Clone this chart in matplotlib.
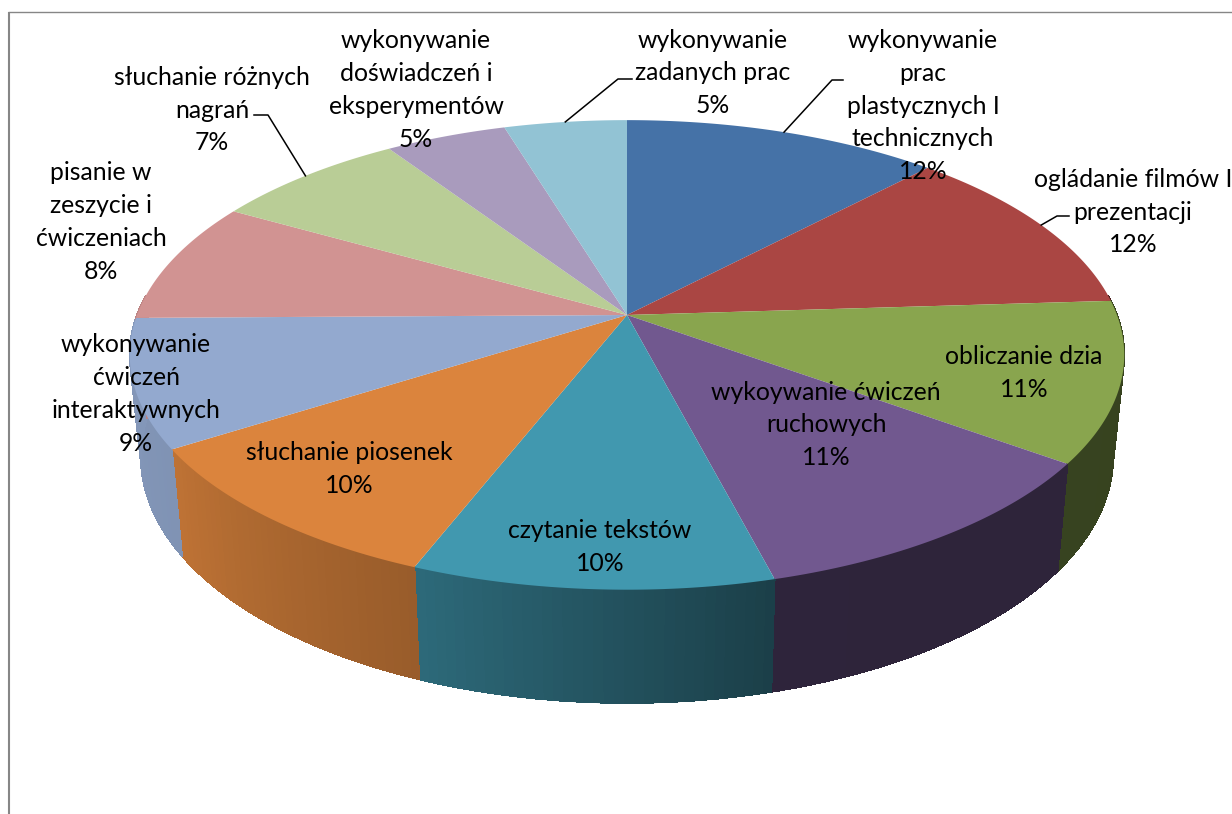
"""
3D pie of classroom activities, drawn by hand on a pixel-sized axes.
"""
import numpy as np
import matplotlib; matplotlib.use("Agg")
import matplotlib.pyplot as plt

labels = [
    "wykonywanie\nprac\nplastycznych I\ntechnicznych",
    "ogládanie filmów I\nprezentacji",
    "obliczanie dzia",
    "wykoywanie ćwiczeń\nruchowych",
    "czytanie tekstów",
    "słuchanie piosenek",
    "wykonywanie\nćwiczeń\ninteraktywnych",
    "pisanie w\nzeszycie i\nćwiczeniach",
    "słuchanie różnych\nnagrań",
    "wykonywanie\ndoświadczeń i\neksperymentów",
    "wykonywanie\nzadanych prac",
]
shares = [12.1, 11.9, 11.0, 10.95, 10.0, 10.05, 8.8, 8.4, 7.45, 4.65, 4.7]
colors = ["#4572A7", "#AA4643", "#89A54E", "#71588F", "#4198AF", "#DB843D",
          "#93A9CF", "#D19392", "#B9CD96", "#A99BBD", "#92C3D4"]

# label centres in pixels
label_x = [923, 1133, 1024, 826, 600, 349, 136, 101, 212, 416, 713]
label_y = [106, 212, 373, 425, 547, 469, 394, 222, 110, 90, 73]
# slice index -> elbow and end of the leader line
leaders = {0: [(832, 80), (843, 80)], 1: [(1057, 216), (1069, 216)],
           8: [(268, 115), (254, 115)], 10: [(618, 79), (632, 79)]}

FONT = "Lato"
FS = 17.8
LINE = "#868686"
P = 0.17

# shade of the side wall against angle
shade_deg = [85, 165, 202, 238, 275]
shade_val = [0.40, 0.41, 0.70, 0.87, 0.90]


def top_rim(deg):
    t = np.radians(deg)
    d = 1 + P * np.cos(t)
    return 627 + 490 * np.sin(t) / d, 315 - 228 * np.cos(t) / d


def bottom_rim(deg):
    t = np.radians(deg)
    d = 1 + P * np.cos(t)
    return 627 + 479 * np.sin(t) / d, 415 - 239 * np.cos(t) / d


def scale(hex_color, f):
    return tuple(c * f for c in matplotlib.colors.to_rgb(hex_color))


fig = plt.figure(figsize=(12.32, 8.14), dpi=100, facecolor="white")
ax = fig.add_axes([0, 0, 1, 1])
ax.set_xlim(0, 1232)
ax.set_ylim(814, 0)
ax.axis("off")

ax.plot([9, 9], [814, 12], color=LINE, lw=1.5, solid_capstyle="butt")
ax.plot([8, 1232], [12, 12], color=LINE, lw=1.0, solid_capstyle="butt")

edges = np.cumsum([0] + shares) / sum(shares) * 360

# side wall first, top face goes over it
for i, col in enumerate(colors):
    a0, a1 = max(edges[i], 85), min(edges[i + 1], 275)
    if a1 <= a0:
        continue
    steps = np.linspace(a0, a1, int(a1 - a0) + 2)
    for s0, s1 in zip(steps[:-1], steps[1:]):
        x0, y0 = top_rim(s0); x1, y1 = top_rim(s1)
        x2, y2 = bottom_rim(s1); x3, y3 = bottom_rim(s0)
        c = scale(col, np.interp((s0 + s1) / 2, shade_deg, shade_val))
        # no antialias here or the quads show seams
        ax.fill([x0, x1, x2, x3], [y0, y1, y2, y3], color=c, lw=0.6, antialiased=False, zorder=2)
        ax.plot([x2, x3], [y2, y3], color=c, lw=0.8, zorder=2)

for i, col in enumerate(colors):
    arc = np.linspace(edges[i], edges[i + 1], 120)
    rx, ry = top_rim(arc)
    ax.fill(np.r_[627, rx], np.r_[315, ry], color=col, lw=0, zorder=3)

for i, pts in leaders.items():
    sx, sy = top_rim((edges[i] + edges[i + 1]) / 2)
    xs = [sx] + [p[0] for p in pts]
    ys = [sy] + [p[1] for p in pts]
    ax.plot(xs, ys, color="black", lw=1.1, zorder=4)

for name, v, x, y in zip(labels, shares, label_x, label_y):
    ax.text(x, y, f"{name}\n{v:.0f}%", ha="center", va="center", multialignment="center",
            family=FONT, fontsize=FS, linespacing=1.52, color="black", zorder=5)

fig.savefig("out.png", dpi=100)
